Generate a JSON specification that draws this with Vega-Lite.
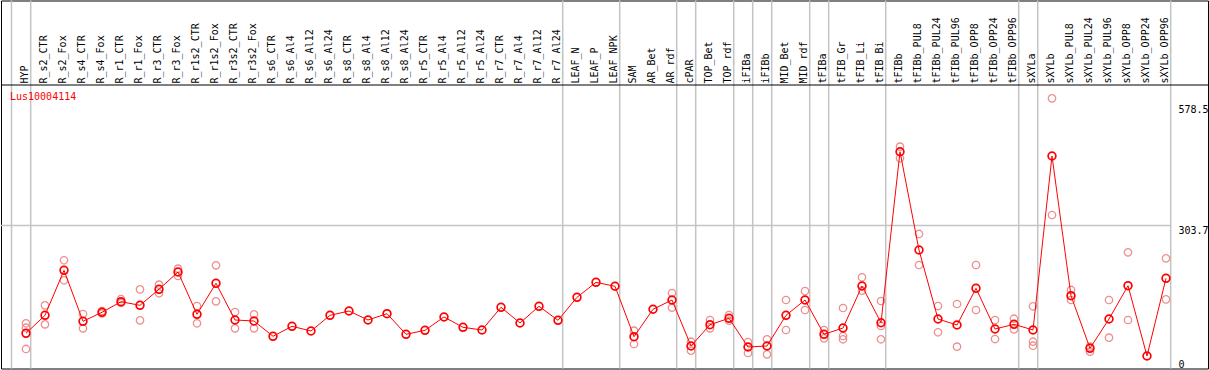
{
  "$schema": "https://vega.github.io/schema/vega-lite/v6.json",
  "width": 1207,
  "height": 368,
  "autosize": {"type": "none"},
  "padding": {"left": 1, "top": 0.5, "right": 0.5, "bottom": 1},
  "background": "white",
  "config": {
    "view": {"stroke": "black", "strokeWidth": 1},
    "font": "DejaVu Sans Mono",
    "axis": {"labelFont": "DejaVu Sans Mono", "labelFontSize": 10, "labelColor": "black"}
  },
  "resolve": {"axis": {"x": "independent", "y": "independent"}},
  "datasets": {
    "means": [
      {"cat": "HYP", "v": 58.8}, {"cat": "R_s2_CTR", "v": 99.6}, {"cat": "R_s2_Fox", "v": 201.8},
      {"cat": "R_s4_CTR", "v": 86.0}, {"cat": "R_s4_Fox", "v": 106.4}, {"cat": "R_r1_CTR", "v": 130.5},
      {"cat": "R_r1_Fox", "v": 122.3}, {"cat": "R_r3_CTR", "v": 158.6}, {"cat": "R_r3_Fox", "v": 197.9},
      {"cat": "R_r1s2_CTR", "v": 101.9}, {"cat": "R_r1s2_Fox", "v": 172.3}, {"cat": "R_r3s2_CTR", "v": 89.0},
      {"cat": "R_r3s2_Fox", "v": 86.7}, {"cat": "R_s6_CTR", "v": 52.0}, {"cat": "R_s6_Al4", "v": 74.7},
      {"cat": "R_s6_Al12", "v": 64.0}, {"cat": "R_s6_Al24", "v": 99.6}, {"cat": "R_s8_CTR", "v": 109.4},
      {"cat": "R_s8_Al4", "v": 89.0}, {"cat": "R_s8_Al12", "v": 103.3}, {"cat": "R_s8_Al24", "v": 56.5},
      {"cat": "R_r5_CTR", "v": 65.6}, {"cat": "R_r5_Al4", "v": 95.8}, {"cat": "R_r5_Al12", "v": 72.4},
      {"cat": "R_r5_Al24", "v": 66.3}, {"cat": "R_r7_CTR", "v": 117.8}, {"cat": "R_r7_Al4", "v": 82.2},
      {"cat": "R_r7_Al12", "v": 120.1}, {"cat": "R_r7_Al24", "v": 88.3}, {"cat": "LEAF_N", "v": 140.5},
      {"cat": "LEAF_P", "v": 174.5}, {"cat": "LEAF_NPK", "v": 165.5}, {"cat": "SAM", "v": 51.1},
      {"cat": "AR_Bet", "v": 113.3}, {"cat": "AR_rdf", "v": 134.4}, {"cat": "cPAR", "v": 30.0},
      {"cat": "TOP_Bet", "v": 78.3}, {"cat": "TOP_rdf", "v": 92.8}, {"cat": "iFIBa", "v": 27.7},
      {"cat": "iFIBb", "v": 30.0}, {"cat": "MID_Bet", "v": 99.6}, {"cat": "MID_rdf", "v": 134.4},
      {"cat": "tFIBa", "v": 56.5}, {"cat": "tFIB_Gr", "v": 70.8}, {"cat": "tFIB_Li", "v": 166.1},
      {"cat": "tFIB_Bi", "v": 82.8}, {"cat": "tFIBb", "v": 470.9}, {"cat": "tFIBb_PUL8", "v": 247.8},
      {"cat": "tFIBb_PUL24", "v": 91.2}, {"cat": "tFIBb_PUL96", "v": 77.6}, {"cat": "tFIBb_OPP8", "v": 160.9},
      {"cat": "tFIBb_OPP24", "v": 68.5}, {"cat": "tFIBb_OPP96", "v": 79.2}, {"cat": "sXYLa", "v": 66.3},
      {"cat": "sXYLb", "v": 461.2}, {"cat": "sXYLb_PUL8", "v": 144.1}, {"cat": "sXYLb_PUL24", "v": 24.7},
      {"cat": "sXYLb_PUL96", "v": 91.2}, {"cat": "sXYLb_OPP8", "v": 166.8}, {"cat": "sXYLb_OPP24", "v": 7.3},
      {"cat": "sXYLb_OPP96", "v": 183.6}
    ],
    "reps": [
      {"cat": "HYP", "v": 81.5}, {"cat": "HYP", "v": 71.5}, {"cat": "HYP", "v": 23.2},
      {"cat": "R_s2_CTR", "v": 122.3}, {"cat": "R_s2_CTR", "v": 79.2},
      {"cat": "R_s2_Fox", "v": 224.5}, {"cat": "R_s2_Fox", "v": 179.1},
      {"cat": "R_s4_CTR", "v": 102.6}, {"cat": "R_s4_CTR", "v": 70.1},
      {"cat": "R_s4_Fox", "v": 109.4}, {"cat": "R_s4_Fox", "v": 103.7},
      {"cat": "R_r1_CTR", "v": 136.6}, {"cat": "R_r1_CTR", "v": 127.6},
      {"cat": "R_r1_Fox", "v": 158.6}, {"cat": "R_r1_Fox", "v": 88.3},
      {"cat": "R_r3_CTR", "v": 169.1}, {"cat": "R_r3_CTR", "v": 149.6},
      {"cat": "R_r3_Fox", "v": 205.4}, {"cat": "R_r3_Fox", "v": 188.8},
      {"cat": "R_r1s2_CTR", "v": 120.7}, {"cat": "R_r1s2_CTR", "v": 81.5},
      {"cat": "R_r1s2_Fox", "v": 213.1}, {"cat": "R_r1s2_Fox", "v": 131.4},
      {"cat": "R_r3s2_CTR", "v": 107.1}, {"cat": "R_r3s2_CTR", "v": 70.1},
      {"cat": "R_r3s2_Fox", "v": 101.9}, {"cat": "R_r3s2_Fox", "v": 70.1},
      {"cat": "SAM", "v": 64.7}, {"cat": "SAM", "v": 34.5},
      {"cat": "AR_rdf", "v": 150.2}, {"cat": "AR_rdf", "v": 116.9},
      {"cat": "cPAR", "v": 39.7}, {"cat": "cPAR", "v": 19.3},
      {"cat": "TOP_Bet", "v": 89.0}, {"cat": "TOP_Bet", "v": 70.1},
      {"cat": "TOP_rdf", "v": 100.3}, {"cat": "TOP_rdf", "v": 87.4},
      {"cat": "iFIBa", "v": 39.0}, {"cat": "iFIBa", "v": 14.1},
      {"cat": "iFIBb", "v": 45.2}, {"cat": "iFIBb", "v": 11.1},
      {"cat": "MID_Bet", "v": 134.4}, {"cat": "MID_Bet", "v": 66.3},
      {"cat": "MID_rdf", "v": 154.8}, {"cat": "MID_rdf", "v": 111.7},
      {"cat": "tFIBa", "v": 66.3}, {"cat": "tFIBa", "v": 47.4},
      {"cat": "tFIB_Gr", "v": 116.2}, {"cat": "tFIB_Gr", "v": 52.7}, {"cat": "tFIB_Gr", "v": 45.2},
      {"cat": "tFIB_Li", "v": 185.9}, {"cat": "tFIB_Li", "v": 155.5},
      {"cat": "tFIB_Bi", "v": 132.1}, {"cat": "tFIB_Bi", "v": 75.4}, {"cat": "tFIB_Bi", "v": 45.2},
      {"cat": "tFIBb", "v": 482.3}, {"cat": "tFIBb", "v": 456.0},
      {"cat": "tFIBb_PUL8", "v": 284.2}, {"cat": "tFIBb_PUL8", "v": 213.8},
      {"cat": "tFIBb_PUL24", "v": 120.7}, {"cat": "tFIBb_PUL24", "v": 61.1},
      {"cat": "tFIBb_PUL96", "v": 125.3}, {"cat": "tFIBb_PUL96", "v": 28.4},
      {"cat": "tFIBb_OPP8", "v": 213.8}, {"cat": "tFIBb_OPP8", "v": 111.7},
      {"cat": "tFIBb_OPP24", "v": 89.0}, {"cat": "tFIBb_OPP24", "v": 45.8},
      {"cat": "tFIBb_OPP96", "v": 91.9}, {"cat": "tFIBb_OPP96", "v": 67.8},
      {"cat": "sXYLa", "v": 120.1}, {"cat": "sXYLa", "v": 39.7}, {"cat": "sXYLa", "v": 30.6},
      {"cat": "sXYLb", "v": 592.1}, {"cat": "sXYLb", "v": 327.3},
      {"cat": "sXYLb_PUL8", "v": 157.1}, {"cat": "sXYLb_PUL8", "v": 134.4},
      {"cat": "sXYLb_PUL24", "v": 28.4}, {"cat": "sXYLb_PUL24", "v": 17.0},
      {"cat": "sXYLb_PUL96", "v": 134.4}, {"cat": "sXYLb_PUL96", "v": 48.8},
      {"cat": "sXYLb_OPP8", "v": 242.6}, {"cat": "sXYLb_OPP8", "v": 89.0},
      {"cat": "sXYLb_OPP96", "v": 229.0}, {"cat": "sXYLb_OPP96", "v": 135.9}
    ],
    "seps": [
      {"cat": "HYP", "side": "before"},
      {"cat": "HYP", "side": "after"}, {"cat": "R_r7_Al24", "side": "after"},
      {"cat": "LEAF_NPK", "side": "after"}, {"cat": "AR_rdf", "side": "after"},
      {"cat": "cPAR", "side": "after"}, {"cat": "TOP_rdf", "side": "after"},
      {"cat": "iFIBa", "side": "after"}, {"cat": "iFIBb", "side": "after"},
      {"cat": "MID_rdf", "side": "after"}, {"cat": "tFIBa", "side": "after"},
      {"cat": "tFIB_Bi", "side": "after"}, {"cat": "tFIBb_OPP96", "side": "after"},
      {"cat": "sXYLa", "side": "after"}, {"cat": "sXYLb_OPP96", "side": "after"}
    ],
    "grid": [{"v": 303.7, "from": "HYP", "to": "sXYLb_OPP96"}],
    "divider": [{"v": 622.3}],
    "gene": [{"gene": "Lus10004114", "cat": "HYP", "v": 595}]
  },
  "layer": [
    {
      "data": {"name": "seps"},
      "transform": [{"filter": "datum.side == 'after'"}],
      "mark": {"type": "rule", "color": "#c4c4c4", "strokeWidth": 1.5, "xOffset": 4.7},
      "encoding": {"x": {"field": "cat", "type": "nominal", "axis": null}}
    },
    {
      "data": {"name": "seps"},
      "transform": [{"filter": "datum.side == 'before'"}],
      "mark": {"type": "rule", "color": "#c4c4c4", "strokeWidth": 1.5, "xOffset": -14.5},
      "encoding": {"x": {"field": "cat", "type": "nominal", "axis": null}}
    },
    {
      "data": {"name": "grid"},
      "mark": {"type": "rule", "color": "#c4c4c4", "strokeWidth": 1.5, "xOffset": -25, "x2Offset": 4.7},
      "encoding": {
        "x": {"field": "from", "type": "nominal", "axis": null},
        "x2": {"field": "to"},
        "y": {"field": "v", "type": "quantitative", "axis": null}
      }
    },
    {
      "data": {"name": "divider"},
      "mark": {"type": "rule", "color": "black", "strokeWidth": 1},
      "encoding": {"y": {"field": "v", "type": "quantitative", "axis": null}}
    },
    {
      "data": {"name": "reps"},
      "mark": {"type": "point", "shape": "circle", "filled": false, "color": "#ee9090", "strokeWidth": 1.3, "size": 55, "opacity": 1},
      "encoding": {
        "x": {"field": "cat", "type": "nominal", "axis": null},
        "y": {"field": "v", "type": "quantitative", "axis": null}
      }
    },
    {
      "data": {"name": "means"},
      "mark": {"type": "line", "color": "#ff0000", "strokeWidth": 1},
      "encoding": {
        "x": {"field": "cat", "type": "nominal", "axis": null},
        "y": {"field": "v", "type": "quantitative", "axis": null},
        "order": {"value": null}
      }
    },
    {
      "data": {"name": "means"},
      "mark": {"type": "point", "shape": "circle", "filled": false, "color": "#ff0000", "strokeWidth": 1.7, "size": 60, "opacity": 1},
      "encoding": {
        "x": {
          "field": "cat", "type": "nominal",
          "scale": {
            "type": "point", "padding": 0, "range": [25, 1165],
            "domain": ["HYP","R_s2_CTR","R_s2_Fox","R_s4_CTR","R_s4_Fox","R_r1_CTR","R_r1_Fox","R_r3_CTR","R_r3_Fox","R_r1s2_CTR","R_r1s2_Fox","R_r3s2_CTR","R_r3s2_Fox","R_s6_CTR","R_s6_Al4","R_s6_Al12","R_s6_Al24","R_s8_CTR","R_s8_Al4","R_s8_Al12","R_s8_Al24","R_r5_CTR","R_r5_Al4","R_r5_Al12","R_r5_Al24","R_r7_CTR","R_r7_Al4","R_r7_Al12","R_r7_Al24","LEAF_N","LEAF_P","LEAF_NPK","SAM","AR_Bet","AR_rdf","cPAR","TOP_Bet","TOP_rdf","iFIBa","iFIBb","MID_Bet","MID_rdf","tFIBa","tFIB_Gr","tFIB_Li","tFIB_Bi","tFIBb","tFIBb_PUL8","tFIBb_PUL24","tFIBb_PUL96","tFIBb_OPP8","tFIBb_OPP24","tFIBb_OPP96","sXYLa","sXYLb","sXYLb_PUL8","sXYLb_PUL24","sXYLb_PUL96","sXYLb_OPP8","sXYLb_OPP24","sXYLb_OPP96"]
          },
          "axis": {
            "orient": "top", "offset": -84.5, "labelAngle": 270, "labelPadding": 2,
            "ticks": false, "domain": false, "grid": false, "title": null,
            "labelOverlap": false, "labelLimit": 0, "labelOffset": -2
          }
        },
        "y": {
          "field": "v", "type": "quantitative",
          "scale": {"domain": [-21.1, 814.1], "nice": false, "zero": false},
          "axis": {
            "orient": "right", "offset": -38, "values": [0, 303.7, 578.5],
            "labelExpr": "datum.value == 0 ? '0' : format(datum.value, '.1f')",
            "labelAlign": "left", "labelBaseline": "top", "labelPadding": 8,
            "ticks": false, "domain": false, "grid": false, "title": null
          }
        }
      }
    },
    {
      "data": {"name": "gene"},
      "mark": {"type": "text", "align": "left", "baseline": "middle", "dx": -16, "color": "#ff0000", "fontSize": 10, "font": "DejaVu Sans Mono"},
      "encoding": {
        "x": {"field": "cat", "type": "nominal", "axis": null},
        "y": {"field": "v", "type": "quantitative", "axis": null},
        "text": {"field": "gene"}
      }
    }
  ]
}
